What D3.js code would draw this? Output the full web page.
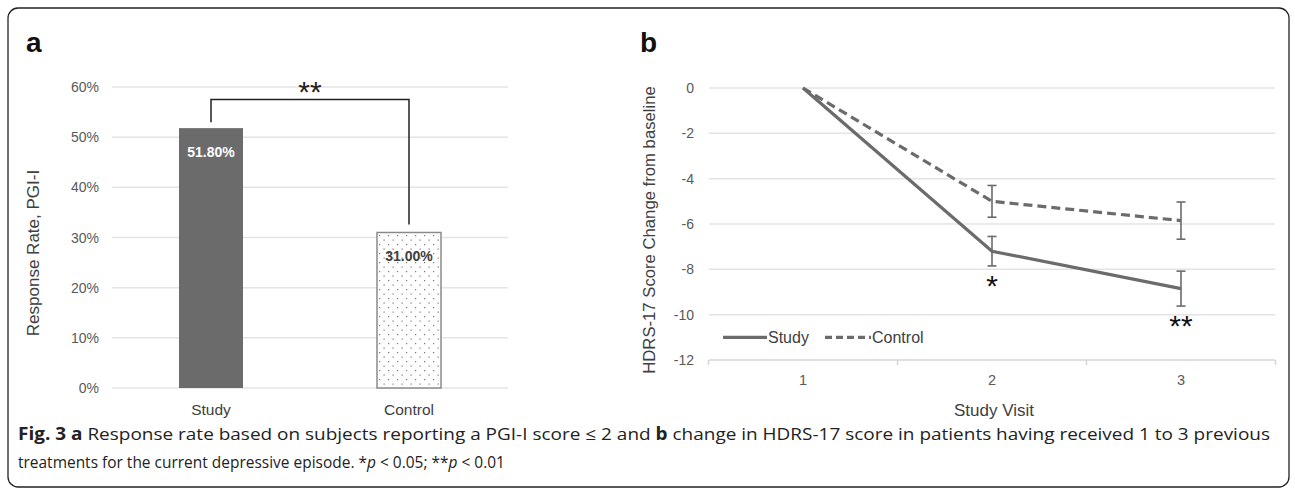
<!DOCTYPE html>
<html>
<head>
<meta charset="utf-8">
<script src="https://cdn.jsdelivr.net/npm/d3@7"></script>
<style>
body{margin:0;background:#fff;}
svg{display:block;}
</style>
</head>
<body>
<svg id="fig"></svg>
<script>
// panel a data
var barCats=["Study","Control"];
var barVals=[51.8,31.0];
var barLabels=["51.80%","31.00%"];
var pctTicks=[0,10,20,30,40,50,60];

// panel b data
var visits=[1,2,3];
var studyMean=[0,-7.2,-8.85];
var studyErr=[0,0.65,0.77];
var controlMean=[0,-5.0,-5.85];
var controlErr=[0,0.7,0.82];
var scoreTicks=[0,-2,-4,-6,-8,-10,-12];
var starsB=[{visit:2,v:-7.2,e:0.65,txt:"*"},{visit:3,v:-8.85,e:0.77,txt:"**"}];

var W=1295,H=492;
var grey="#6b6b6b";
var font="Liberation Sans, Arial, sans-serif";

var svg=d3.select("#fig").attr("width",W).attr("height",H);

var defs=svg.append("defs");
var pat=defs.append("pattern")
.attr("id","dots")
.attr("patternUnits","userSpaceOnUse")
.attr("width",9).attr("height",9);
pat.append("rect").attr("width",9).attr("height",9).attr("fill","#fff");
pat.append("rect").attr("x",1).attr("y",1).attr("width",1.2).attr("height",1.2).attr("fill","#777");
pat.append("rect").attr("x",5.5).attr("y",5.5).attr("width",1.2).attr("height",1.2).attr("fill","#777");

// frame
svg.append("rect")
.attr("x",8).attr("y",8).attr("width",1281).attr("height",479)
.attr("rx",10).attr("ry",10)
.attr("fill","none").attr("stroke","#222").attr("stroke-width",1.3);

// ---------- panel a ----------
var xa=d3.scaleBand().domain(barCats).range([112,508]).paddingInner(0).paddingOuter(0);
var ya=d3.scaleLinear().domain([0,60]).range([388,87]);
var bw=64;

var ga=svg.append("g");
ga.selectAll("line.grid").data(pctTicks).enter().append("line")
.attr("class","grid")
.attr("x1",112).attr("x2",508)
.attr("y1",function(d){return ya(d);})
.attr("y2",function(d){return ya(d);})
.attr("stroke","#e4e4e4").attr("stroke-width",1.5);

ga.selectAll("text.yt").data(pctTicks).enter().append("text")
.attr("class","yt")
.attr("x",99).attr("y",function(d){return ya(d)+5;})
.attr("text-anchor","end")
.attr("font-family",font).attr("font-size",14).attr("fill","#595959")
.text(function(d){return d+"%";});

ga.selectAll("rect.bar").data(barVals).enter().append("rect")
.attr("class","bar")
.attr("x",function(d,i){return xa(barCats[i])+xa.bandwidth()/2-bw/2;})
.attr("y",function(d){return ya(d);})
.attr("width",bw)
.attr("height",function(d){return ya(0)-ya(d);})
.attr("fill",function(d,i){return i==0?grey:"url(#dots)";})
.attr("stroke",function(d,i){return i==0?"none":"#8a8a8a";})
.attr("stroke-width",1.5);

ga.selectAll("text.bl").data(barVals).enter().append("text")
.attr("class","bl")
.attr("x",function(d,i){return xa(barCats[i])+xa.bandwidth()/2;})
.attr("y",function(d){return ya(d)+29;})
.attr("text-anchor","middle")
.attr("font-family",font).attr("font-weight","bold").attr("font-size",14)
.attr("fill",function(d,i){return i==0?"#fff":"#404040";})
.text(function(d,i){return barLabels[i];});

ga.selectAll("text.xc").data(barCats).enter().append("text")
.attr("class","xc")
.attr("x",function(d){return xa(d)+xa.bandwidth()/2;})
.attr("y",415)
.attr("text-anchor","middle")
.attr("font-family",font).attr("font-size",15.5).attr("fill","#404040")
.text(function(d){return d;});

// significance bracket
var bx1=xa(barCats[0])+xa.bandwidth()/2, bx2=xa(barCats[1])+xa.bandwidth()/2;
ga.append("path")
.attr("d","M"+bx1+","+(ya(barVals[0])-6)+"V"+ya(57.5)+"H"+bx2+"V"+(ya(barVals[1])-8))
.attr("fill","none").attr("stroke","#222").attr("stroke-width",1.5);
ga.append("text")
.attr("x",(bx1+bx2)/2).attr("y",ya(57.5)+2)
.attr("text-anchor","middle")
.attr("font-family",font).attr("font-size",30).attr("fill","#222")
.text("**");

ga.append("text")
.attr("transform","translate(39,253) rotate(-90)")
.attr("text-anchor","middle")
.attr("font-family",font).attr("font-size",17).attr("fill","#404040")
.text("Response Rate, PGI-I");

svg.append("text").attr("x",26).attr("y",52)
.attr("font-family",font).attr("font-weight","bold").attr("font-size",28).attr("fill","#111")
.text("a");

// ---------- panel b ----------
var xb=d3.scalePoint().domain(visits).range([803,1181]);
var yb=d3.scaleLinear().domain([-12,0]).range([360,88]);
var gb=svg.append("g");

gb.selectAll("line.grid").data(scoreTicks.slice(0,6)).enter().append("line")
.attr("class","grid")
.attr("x1",709).attr("x2",1275)
.attr("y1",function(d){return yb(d);})
.attr("y2",function(d){return yb(d);})
.attr("stroke","#e4e4e4").attr("stroke-width",1.5);

// x axis line with category separators
var step=xb.step();
var sepX=[0,1,2,3].map(function(k){return xb(1)-step/2+k*step;});
gb.append("line").attr("x1",709).attr("x2",1275).attr("y1",yb(-12)).attr("y2",yb(-12))
.attr("stroke","#d4d4d4").attr("stroke-width",1.5);
gb.selectAll("line.sep").data(sepX).enter().append("line")
.attr("class","sep")
.attr("x1",function(d){return d;}).attr("x2",function(d){return d;})
.attr("y1",yb(-12)).attr("y2",yb(-12)+5)
.attr("stroke","#d4d4d4").attr("stroke-width",1.5);

gb.selectAll("text.yt").data(scoreTicks).enter().append("text")
.attr("class","yt")
.attr("x",694).attr("y",function(d){return yb(d)+5;})
.attr("text-anchor","end")
.attr("font-family",font).attr("font-size",14).attr("fill","#595959")
.text(function(d){return d==0?"0":"-"+Math.abs(d);});

gb.selectAll("text.xt").data(visits).enter().append("text")
.attr("class","xt")
.attr("x",function(d){return xb(d);}).attr("y",385)
.attr("text-anchor","middle")
.attr("font-family",font).attr("font-size",14.5).attr("fill","#595959")
.text(function(d){return d;});

var line=d3.line()
.x(function(d,i){return xb(visits[i]);})
.y(function(d){return yb(d);});

gb.append("path").datum(controlMean)
.attr("d",line).attr("fill","none").attr("stroke",grey)
.attr("stroke-width",3.2).attr("stroke-dasharray","9,5");
gb.append("path").datum(studyMean)
.attr("d",line).attr("fill","none").attr("stroke",grey)
.attr("stroke-width",3.2);

var errs=[];
visits.forEach(function(v,i){
if(i>0){
errs.push({x:v,m:studyMean[i],e:studyErr[i]});
errs.push({x:v,m:controlMean[i],e:controlErr[i]});
}
});
var eg=gb.selectAll("g.err").data(errs).enter().append("g").attr("class","err");
eg.append("line")
.attr("x1",function(d){return xb(d.x);}).attr("x2",function(d){return xb(d.x);})
.attr("y1",function(d){return yb(d.m+d.e);}).attr("y2",function(d){return yb(d.m-d.e);})
.attr("stroke",grey).attr("stroke-width",1.6);
eg.append("line")
.attr("x1",function(d){return xb(d.x)-4.5;}).attr("x2",function(d){return xb(d.x)+4.5;})
.attr("y1",function(d){return yb(d.m+d.e);}).attr("y2",function(d){return yb(d.m+d.e);})
.attr("stroke",grey).attr("stroke-width",1.6);
eg.append("line")
.attr("x1",function(d){return xb(d.x)-4.5;}).attr("x2",function(d){return xb(d.x)+4.5;})
.attr("y1",function(d){return yb(d.m-d.e);}).attr("y2",function(d){return yb(d.m-d.e);})
.attr("stroke",grey).attr("stroke-width",1.6);

gb.selectAll("text.star").data(starsB).enter().append("text")
.attr("class","star")
.attr("x",function(d){return xb(d.visit);})
.attr("y",function(d){return yb(d.v-d.e)+30;})
.attr("text-anchor","middle")
.attr("font-family",font).attr("font-size",30).attr("fill","#111")
.text(function(d){return d.txt;});

// legend
var lg=gb.append("g");
lg.append("line").attr("x1",723).attr("x2",767).attr("y1",yb(-11)).attr("y2",yb(-11))
.attr("stroke",grey).attr("stroke-width",3.2);
lg.append("text").attr("x",768).attr("y",yb(-11)+5.5)
.attr("font-family",font).attr("font-size",16).attr("fill","#404040").text("Study");
lg.append("line").attr("x1",825).attr("x2",871).attr("y1",yb(-11)).attr("y2",yb(-11))
.attr("stroke",grey).attr("stroke-width",3.2).attr("stroke-dasharray","7,4");
lg.append("text").attr("x",872).attr("y",yb(-11)+5.5)
.attr("font-family",font).attr("font-size",16).attr("fill","#404040").text("Control");

gb.append("text")
.attr("transform","translate(655,230) rotate(-90)")
.attr("text-anchor","middle")
.attr("font-family",font).attr("font-size",16.7).attr("fill","#404040")
.text("HDRS-17 Score Change from baseline");

gb.append("text").attr("x",994).attr("y",416)
.attr("text-anchor","middle")
.attr("font-family",font).attr("font-size",17).attr("fill","#404040")
.text("Study Visit");

svg.append("text").attr("x",640).attr("y",52)
.attr("font-family",font).attr("font-weight","bold").attr("font-size",28).attr("fill","#111")
.text("b");

// ---------- caption ----------
var cfont="Open Sans, Noto Sans, sans-serif";
var sx=0.91;
var cg=svg.append("g").attr("transform","translate(18,0) scale("+sx+",1)");
var c1=cg.append("text").attr("x",0).attr("y",440)
.attr("font-family",cfont).attr("font-size",17).attr("fill","#222")
.attr("textLength",1252/sx).attr("lengthAdjust","spacingAndGlyphs");
c1.append("tspan").attr("font-weight","bold").text("Fig. 3 a");
c1.append("tspan").text(" Response rate based on subjects reporting a PGI-I score \u2264 2 and ");
c1.append("tspan").attr("font-weight","bold").text("b");
c1.append("tspan").text(" change in HDRS-17 score in patients having received 1 to 3 previous");

var c2=cg.append("text").attr("x",0).attr("y",468)
.attr("font-family",cfont).attr("font-size",17).attr("fill","#222");
c2.append("tspan").text("treatments for the current depressive episode. *");
c2.append("tspan").attr("font-style","italic").text("p");
c2.append("tspan").text(" < 0.05; **");
c2.append("tspan").attr("font-style","italic").text("p");
c2.append("tspan").text(" < 0.01");
</script>
</body>
</html>
